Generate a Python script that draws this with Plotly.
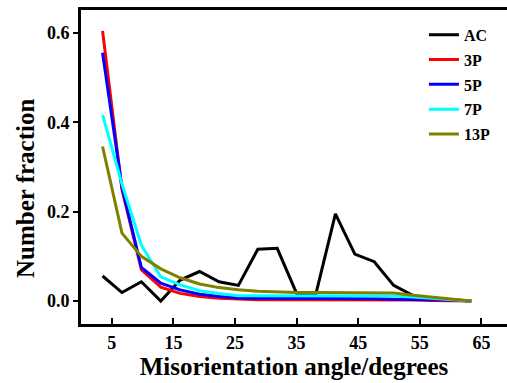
import plotly.graph_objects as go

angles = [3.5, 6.65, 9.8, 12.95, 16.1, 19.25, 22.4, 25.55, 28.7, 31.85,
          35.0, 38.15, 41.3, 44.45, 47.6, 50.75, 53.9, 57.05, 60.2, 63.35]

ac = [0.056, 0.019, 0.043, 0.0, 0.047, 0.066, 0.043, 0.035, 0.116, 0.118,
      0.017, 0.017, 0.195, 0.105, 0.088, 0.035, 0.012, 0.006, 0.003, 0.0]
p3 = [0.605, 0.25, 0.07, 0.031, 0.017, 0.01, 0.006, 0.004, 0.003, 0.003,
      0.003, 0.002, 0.002, 0.002, 0.002, 0.002, 0.002, 0.001, 0.001, 0.0]
p5 = [0.556, 0.255, 0.075, 0.04, 0.025, 0.015, 0.01, 0.007, 0.006, 0.006,
      0.005, 0.005, 0.005, 0.005, 0.005, 0.004, 0.004, 0.003, 0.002, 0.0]
p7 = [0.417, 0.262, 0.125, 0.054, 0.036, 0.023, 0.017, 0.012, 0.012, 0.012,
      0.012, 0.012, 0.012, 0.012, 0.012, 0.011, 0.009, 0.006, 0.003, 0.0]
p13 = [0.346, 0.152, 0.1, 0.072, 0.052, 0.038, 0.03, 0.025, 0.022, 0.02,
       0.019, 0.019, 0.019, 0.019, 0.019, 0.018, 0.013, 0.009, 0.005, 0.0]

names = ["AC", "3P", "5P", "7P", "13P"]
series = [ac, p3, p5, p7, p13]
colors = ["#000000", "#ff0000", "#0000ff", "#00ffff", "#808000"]

x_ticks = [5, 15, 25, 35, 45, 55, 65]
y_ticks = [0.0, 0.2, 0.4, 0.6]

fig = go.Figure()
for i, (n, s, c) in enumerate(zip(names, series, colors)):
    fig.add_trace(go.Scatter(x=angles, y=s, mode="lines", name=n,
                             legendgroup=n,
                             line=dict(color=c, width=3)))

font_family = "Liberation Serif"
fig.update_layout(
    width=507, height=383,
    margin=dict(l=81, r=0, t=10, b=59),
    paper_bgcolor="white", plot_bgcolor="white",
    font=dict(family=font_family, color="black"),
    showlegend=True,
    legend=dict(x=0.805, y=0.975, xanchor="left", yanchor="top",
                font=dict(family=font_family, size=16, color="black", weight="bold"),
                bgcolor="rgba(0,0,0,0)", tracegroupgap=1,
                itemwidth=30),
    xaxis=dict(range=[0, 69.15], tickvals=x_ticks, ticks="inside", ticklen=6,
               tickwidth=2, tickcolor="black", showline=True, linewidth=3,
               linecolor="black", mirror=True, showgrid=False, zeroline=False,
               tickfont=dict(family=font_family, size=18, color="black", weight="bold"),
               title=dict(text="Misorientation angle/degrees", standoff=5,
                          font=dict(family=font_family, size=25, color="black", weight="bold"))),
    yaxis=dict(range=[-0.0515, 0.6517], tickvals=y_ticks, tickformat=".1f",
               ticks="outside", ticklen=5, tickwidth=2, tickcolor="black",
               showline=True, linewidth=3, linecolor="black", mirror=False,
               showgrid=False, zeroline=False,
               tickfont=dict(family=font_family, size=18, color="black", weight="bold")),
    annotations=[dict(text="Number fraction", textangle=-90, showarrow=False,
                      xref="paper", yref="paper", x=-0.1315, y=0.433,
                      xanchor="center", yanchor="middle",
                      font=dict(family=font_family, size=25, color="black", weight="bold"))],
)

fig.write_html("out.html")
